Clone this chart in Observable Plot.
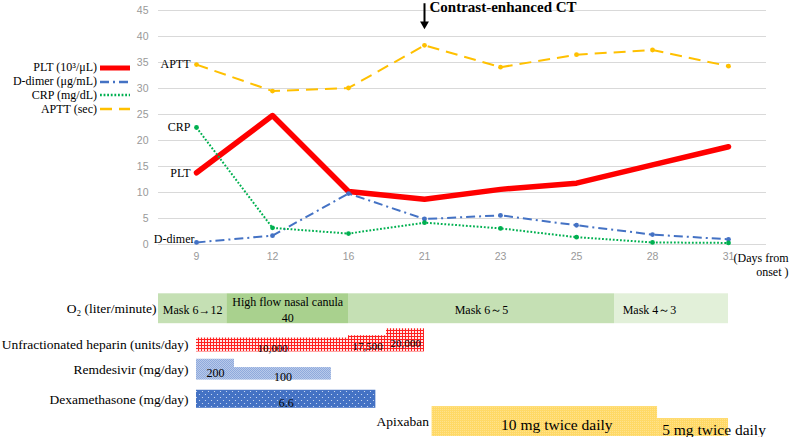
<!DOCTYPE html>
<html>
<head>
<meta charset="utf-8">
<script src="https://cdn.jsdelivr.net/npm/d3@7"></script>
<script src="https://cdn.jsdelivr.net/npm/@observablehq/plot@0.6"></script>
<style>
  body { margin: 0; background: #fff; }
  #wrap { position: relative; width: 790px; height: 437px; overflow: hidden; background: #fff; }
  #wrap > svg { display: block; }
  .legend { position: absolute; left: 0; top: 61px; font-family: "Liberation Serif", serif; font-size: 12px; color: #000; }
  .legend .row { display: flex; align-items: center; height: 13.8px; }
  .legend .row span { display: inline-block; width: 97px; text-align: right; white-space: nowrap; }
  .legend .row svg { margin-left: 3px; display: block; }
</style>
</head>
<body>
<div id="wrap"></div>
<script>
// ---------------- DATA ----------------
const days = [9, 12, 16, 21, 23, 25, 28, 31];
const yTicks = [0, 5, 10, 15, 20, 25, 30, 35, 40, 45];

const plt    = [13.8, 24.8, 10.2, 8.7, 10.6, 11.8, 15.3, 18.8];
const dDimer = [0.4, 1.7, 9.8, 4.9, 5.6, 3.7, 1.9, 1.0];
const crp    = [22.5, 3.2, 2.1, 4.2, 3.1, 1.4, 0.4, 0.3];
const aptt   = [34.6, 29.5, 30.1, 38.3, 34.1, 36.5, 37.4, 34.3];

const seriesKeys   = ["PLT", "D-dimer", "CRP", "APTT"];
const legendLabels = ["PLT (10³/μL)", "D-dimer (μg/mL)", "CRP (mg/dL)", "APTT (sec)"];
const ctDay = 21;
const ctLabel = "Contrast-enhanced CT";
const xAxisLabel = "(Days from\nonset )";

// Timeline (days from onset)
const rows = ["O2", "heparin", "remdesivir", "dexamethasone", "apixaban"];
const rowLabels = ["O₂ (liter/minute)", "Unfractionated heparin (units/day)", "Remdesivir (mg/day)", "Dexamethasone (mg/day)", "Apixaban"];

const o2Labels = ["Mask 6→12", "High flow nasal canula\n40", "Mask 6～5", "Mask 4～3"];
const o2Start  = [7.5, 10.2, 16, 26.5];
const o2End    = [10.2, 16, 26.5, 31];

const heparinDose  = [10000, 17500, 20000];
const heparinLabel = ["10,000", "17,500", "20,000"];
const heparinStart = [9, 16, 18.5];
const heparinEnd   = [16, 18.5, 21];

const remdesivirDose  = [200, 100];
const remdesivirLabel = ["200", "100"];
const remdesivirStart = [9, 10.5];
const remdesivirEnd   = [10.5, 15.1];

const dexaDose  = [6.6];
const dexaLabel = ["6.6"];
const dexaStart = [9];
const dexaEnd   = [17.8];

const apixDose  = [10, 5];
const apixLabel = ["10 mg twice daily", "5 mg twice daily"];
const apixStart = [21.2, 28.2];
const apixEnd   = [28.2, 31];

// ---------------- STYLE ----------------
const W = 790, ML = 158, MR = 24;
const serif = "Liberation Serif";
const seriesStyle = {
  "PLT":     {color: "#ff0000", width: 5.5, dash: null,      dots: false, labelDx: -6, labelDy: 0},
  "D-dimer": {color: "#4472c4", width: 2,   dash: "9,4,2,4", dots: true,  labelDx: -2, labelDy: -3},
  "CRP":     {color: "#00b050", width: 2,   dash: "1.8,1.8", dots: true,  labelDx: -6, labelDy: 0},
  "APTT":    {color: "#ffc000", width: 2,   dash: "12,7",    dots: true,  labelDx: -6, labelDy: 0}
};
const drawOrder = ["PLT", "D-dimer", "CRP", "APTT"];
const rowStyle = {
  O2:            {maxH: 1.06, font: 12, labelDx: -2, textDy: 0},
  heparin:       {maxH: 0.82, font: 11, labelDx: -8, textDy: 2, fill: "url(#pHep)"},
  remdesivir:    {maxH: 0.74, font: 12, labelDx: -8, textDy: 2, fill: "url(#pRem)"},
  dexamethasone: {maxH: 0.64, font: 12, labelDx: -8, textDy: 3, fill: "url(#pDex)"},
  apixaban:      {maxH: 1.06, font: 15.5, labelDx: -3, textDy: 2, fill: "url(#pApx)"}
};
const o2Fills = ["#c5e0b4", "#a9d18e", "#c5e0b4", "#e2f0d9"];
const segDx = {"Mask 4～3": -22, "10 mg twice daily": 12, "5 mg twice daily": 21};
const segDy = {"5 mg twice daily": -1};

// ---------------- TOP CHART ----------------
const values = {"PLT": plt, "D-dimer": dDimer, "CRP": crp, "APTT": aptt};
const long = seriesKeys.flatMap(k => days.map((d, i) => ({key: k, day: d, value: values[k][i]})));

const lineMarks = drawOrder.flatMap(k => {
  const s = seriesStyle[k];
  const data = long.filter(d => d.key === k);
  const m = [Plot.line(data, {
    x: "day", y: "value", stroke: s.color, strokeWidth: s.width,
    strokeDasharray: s.dash ?? undefined,
    strokeLinecap: s.dash ? "butt" : "round", strokeLinejoin: "round"
  })];
  if (s.dots) m.push(Plot.dot(data, {x: "day", y: "value", r: 2.4, fill: s.color}));
  return m;
});

const labelMarks = seriesKeys.map(k => {
  const s = seriesStyle[k];
  return Plot.text([long.find(d => d.key === k && d.day === days[0])], {
    x: "day", y: "value", text: () => k, textAnchor: "end",
    dx: s.labelDx, dy: s.labelDy, fill: "#000", fontFamily: serif, fontSize: 12
  });
});

const topPlot = Plot.plot({
  width: W, height: 285,
  marginLeft: ML, marginRight: MR, marginTop: 10, marginBottom: 41,
  style: {fontFamily: "Liberation Sans", fontSize: "10.5px", color: "#999999", background: "transparent", overflow: "visible"},
  x: {type: "point", domain: days, tickSize: 0, tickPadding: 8, label: null},
  y: {domain: [0, 45], ticks: yTicks, tickSize: 0, tickPadding: 10, label: null},
  marks: [
    Plot.gridY(yTicks, {stroke: "#d9d9d9", strokeOpacity: 1, strokeWidth: 1}),
    ...lineMarks,
    ...labelMarks,
    Plot.ruleX([ctDay], {y1: 46.3, y2: 42.6, stroke: "#000", strokeWidth: 2}),
    Plot.dot([ctDay], {x: d => d, y: 42.4, symbol: "triangle", rotate: 180, r: 3.3, fill: "#000", stroke: "none"}),
    Plot.text([ctDay], {x: d => d, y: 45.6, text: () => ctLabel, textAnchor: "start", dx: 5,
      fill: "#000", fontFamily: serif, fontWeight: "bold", fontSize: 15}),
    Plot.text([days[days.length - 1]], {x: d => d, y: 0, text: () => xAxisLabel, textAnchor: "end",
      lineAnchor: "top", dx: 60, dy: 8, lineHeight: 1.15, fill: "#000", fontFamily: serif, fontSize: 12})
  ]
});

// ---------------- TIMELINE ----------------
const step = (W - ML - MR) / days.length;
const xRange = days.map((d, i) => ML + step * (i + 0.5));
const xMap = d3.scaleLinear(days, xRange); // same piecewise mapping as the plot's x scale
const midDay = (a, b) => xMap.invert((xMap(a) + xMap(b)) / 2);

function build(row, starts, ends, labels, doses) {
  const st = rowStyle[row];
  const uniq = doses ? [...new Set(doses)].sort((a, b) => a - b) : [0];
  const n = uniq.length;
  const bottom = rows.indexOf(row) + 1;
  return starts.map((s, i) => {
    const t = n > 1 ? uniq.indexOf(doses[i]) / (n - 1) : 1;
    const h = st.maxH * (0.6 + 0.4 * t * t);
    return {row, idx: i, start: s, end: ends[i], mid: midDay(s, ends[i]), label: labels[i], y1: bottom - h, y2: bottom};
  });
}
const segs = {
  O2: build("O2", o2Start, o2End, o2Labels, null),
  heparin: build("heparin", heparinStart, heparinEnd, heparinLabel, heparinDose),
  remdesivir: build("remdesivir", remdesivirStart, remdesivirEnd, remdesivirLabel, remdesivirDose),
  dexamethasone: build("dexamethasone", dexaStart, dexaEnd, dexaLabel, dexaDose),
  apixaban: build("apixaban", apixStart, apixEnd, apixLabel, apixDose)
};

const tlMarks = rows.flatMap((row, ri) => {
  const st = rowStyle[row];
  const data = segs[row];
  return [
    Plot.rect(data, {x1: "start", x2: "end", y1: "y1", y2: "y2",
      fill: row === "O2" ? (d => o2Fills[d.idx]) : st.fill}),
    ...data.map(d => Plot.text([d], {x: "mid", y: e => (e.y1 + e.y2) / 2, text: "label",
      dx: segDx[d.label] ?? 0, dy: st.textDy + (segDy[d.label] ?? 0), lineHeight: 1.3,
      fill: "#000", fontFamily: serif, fontSize: st.font})),
    Plot.text([data[0]], {x: "start", y: d => (d.y1 + d.y2) / 2, text: () => rowLabels[ri],
      textAnchor: "end", dx: st.labelDx, fill: "#000", fontFamily: serif, fontSize: 13.5})
  ];
});

const bottomPlot = Plot.plot({
  width: W, height: 152,
  marginLeft: ML, marginRight: MR, marginTop: 10, marginBottom: 1,
  style: {background: "transparent", overflow: "visible"},
  x: {type: "linear", domain: days, range: xRange, axis: null},
  y: {domain: [0, rows.length], reverse: true, axis: null},
  color: {type: "identity"},
  marks: tlMarks
});

const ns = "http://www.w3.org/2000/svg";
const defs = document.createElementNS(ns, "defs");
defs.innerHTML = `
  <pattern id="pHep" width="3" height="3" patternUnits="userSpaceOnUse">
    <rect width="3" height="3" fill="#ffe6e6"/>
    <path d="M0 0.5H3M0.5 0V3" stroke="#ff2020" stroke-width="1"/>
  </pattern>
  <pattern id="pRem" width="2" height="2" patternUnits="userSpaceOnUse">
    <rect width="2" height="2" fill="#8faadc"/>
    <rect width="1" height="1" fill="#b8c9ea"/>
    <rect x="1" y="1" width="1" height="1" fill="#b8c9ea"/>
  </pattern>
  <pattern id="pDex" width="6" height="6" patternUnits="userSpaceOnUse">
    <rect width="6" height="6" fill="#4472c4"/>
    <circle cx="1.5" cy="1.5" r="0.6" fill="#dfe7f6"/>
    <circle cx="4.5" cy="4.5" r="0.6" fill="#dfe7f6"/>
  </pattern>
  <pattern id="pApx" width="2" height="2" patternUnits="userSpaceOnUse">
    <rect width="2" height="2" fill="#ffd966"/>
    <rect width="1" height="1" fill="#ffe28c"/>
  </pattern>`;
bottomPlot.insertBefore(defs, bottomPlot.firstChild);

const wrap = document.getElementById("wrap");
wrap.appendChild(topPlot);
wrap.appendChild(bottomPlot);

// ---------------- LEGEND ----------------
const legend = document.createElement("div");
legend.className = "legend";
seriesKeys.forEach((k, i) => {
  const s = seriesStyle[k];
  const row = document.createElement("div");
  row.className = "row";
  const span = document.createElement("span");
  span.textContent = legendLabels[i];
  row.appendChild(span);
  const sw = document.createElementNS(ns, "svg");
  sw.setAttribute("width", 32); sw.setAttribute("height", 12);
  const ln = document.createElementNS(ns, "line");
  ln.setAttribute("x1", 0); ln.setAttribute("x2", 30);
  ln.setAttribute("y1", 6); ln.setAttribute("y2", 6);
  ln.setAttribute("stroke", s.color);
  ln.setAttribute("stroke-width", k === "PLT" ? 5 : 2.5);
  if (s.dash) ln.setAttribute("stroke-dasharray", s.dash);
  sw.appendChild(ln);
  row.appendChild(sw);
  legend.appendChild(row);
});
wrap.appendChild(legend);
</script>
</body>
</html>
